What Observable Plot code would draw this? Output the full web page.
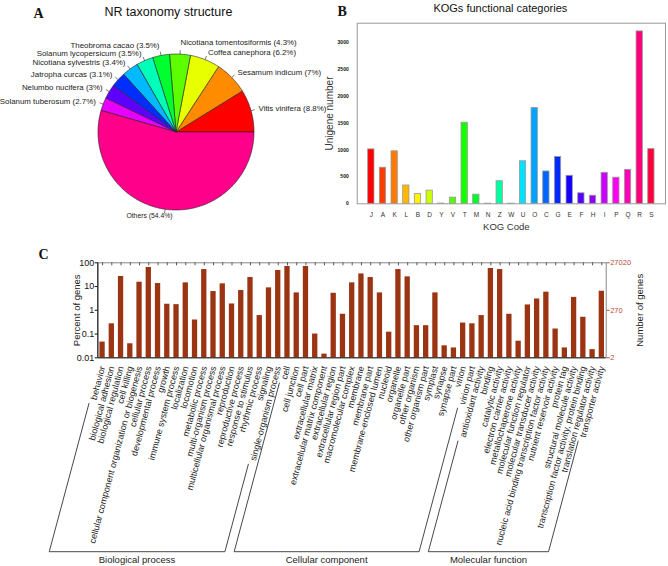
<!DOCTYPE html>
<html><head><meta charset="utf-8">
<script src="https://cdn.jsdelivr.net/npm/d3@7"></script>
<script src="https://cdn.jsdelivr.net/npm/@observablehq/plot@0.6"></script>
<style>
html,body{margin:0;padding:0;background:#fff;}
#fig{position:relative;width:668px;height:566px;overflow:hidden;font-family:'Liberation Sans',Arial,sans-serif;}
#fig > div{position:absolute;}
</style></head><body>
<div id="fig"><div id="pa" style="left:0;top:0"></div><div id="pb" style="left:320px;top:0"></div><div id="pc" style="left:0;top:235px"></div></div>
<script>
// ---------- Panel A: NR taxonomy ----------
const nrSpecies = ["Vitis vinifera","Sesamum indicum","Coffea canephora","Nicotiana tomentosiformis","Theobroma cacao","Solanum lycopersicum","Nicotiana sylvestris","Jatropha curcas","Nelumbo nucifera","Solanum tuberosum","Others"];
const nrPercent = [8.8,7,6.2,4.3,3.5,3.5,3.4,3.1,3,2.7,54.4];
const nrTitle = "NR taxonomy structure";

// ---------- Panel B: KOG ----------
const kogCodes = ["J","A","K","L","B","D","Y","V","T","M","N","Z","W","U","O","C","G","E","F","H","I","P","Q","R","S"];
const kogCounts = [1010,670,975,340,180,245,5,115,1505,170,3,420,3,790,1780,600,870,520,195,150,575,485,630,3200,1015];
const kogTicks = [0,500,1000,1500,2000,2500,3000];
const kogTitle = "KOGs functional categories";

// ---------- Panel C: GO ----------
const goTerms = ["behavior","biological adhesion","biological regulation","cell killing","cellular component organization or biogenesis","cellular process","developmental process","growth","immune system process","localization","locomotion","metabolic process","multi-organism process","multicellular organismal process","reproduction","reproductive process","response to stimulus","rhythmic process","signaling","single-organism process",
"cell","cell junction","cell part","extracellular matrix","extracellular matrix component","extracellular region","extracellular region part","macromolecular complex","membrane","membrane part","membrane-enclosed lumen","nucleoid","organelle","organelle part","other organism","other organism part","symplast","synapse","synapse part","virion","virion part",
"antioxidant activity","binding","catalytic activity","electron carrier activity","metallochaperone activity","molecular function regulator","molecular transducer activity","nucleic acid binding transcription factor activity","nutrient reservoir activity","protein tag","structural molecule activity","transcription factor activity, protein binding","translation regulator activity","transporter activity"];
const goPercent = [0.046,0.27,26.5,0.039,15.2,63.5,13.4,1.8,1.73,14.3,0.39,52,6.15,13,1.85,6.8,24,0.6,8.8,47.5,
70,5.4,70,0.1,0.0143,5.2,0.68,14.3,34,24,5.4,0.12,52,25.6,0.225,0.225,5.4,0.032,0.026,0.29,0.27,
0.6,57.6,52,0.68,0.05,1.68,3.0,5.8,0.163,0.026,3.5,0.51,0.022,6.35];
const goGroups = ["Biological process","Cellular component","Molecular function"];
const goGroupSizes = [20,21,14];
const pctTicks = [100,10,1,0.1,0.01];
const pctTickLabels = ["100","10","1","0.1","0.01"];
const countTicks = [100,1,0.01];
const countTickLabels = ["27020","270","2"];

const FONT = "'Liberation Sans', Arial, sans-serif";
const SERIF = "'Liberation Serif', 'Times New Roman', serif";
const baseStyle = {fontFamily: FONT, background: "transparent", overflow: "visible", color: "#111"};

// ===== Panel A =====
{
  const WA = 334, HA = 232, R = 78, cx = 175.5, cy = 131.5;
  const total = d3.sum(nrPercent);
  let cum = 0;
  const slices = nrSpecies.map((name, i) => {
    const a0 = cum / total * 2 * Math.PI; cum += nrPercent[i];
    const a1 = cum / total * 2 * Math.PI;
    return {name, a0, a1, mid: (a0 + a1) / 2,
      color: d3.hsl(i * 360 / nrSpecies.length, 1, 0.5).formatHex(),
      label: `${name} (${nrPercent[i]}%)`};
  });
  const piePts = slices.flatMap(s => {
    const n = Math.max(2, Math.ceil((s.a1 - s.a0) / (Math.PI / 180)));
    const pts = [{name: s.name, color: s.color, x: 0, y: 0}];
    for (let k = 0; k <= n; k++) {
      const a = s.a0 + (s.a1 - s.a0) * k / n;
      pts.push({name: s.name, color: s.color, x: Math.cos(a), y: Math.sin(a)});
    }
    pts.push({name: s.name, color: s.color, x: 0, y: 0});
    return pts;
  });
  const isOthers = s => s.name === "Others";
  const raised = new Set(["Nicotiana tomentosiformis", "Theobroma cacao"]);
  const lx = d => 1.1 * Math.cos(d.mid), ly = d => 1.1 * Math.sin(d.mid);
  const normal = slices.filter(s => !isOthers(s) && !raised.has(s.name));
  const chart = Plot.plot({
    width: WA, height: HA, margin: 0,
    style: baseStyle,
    x: {domain: [-cx / R, (WA - cx) / R], axis: null},
    y: {domain: [-(HA - cy) / R, cy / R], axis: null},
    marks: [
      Plot.line(piePts, {x: "x", y: "y", z: "name", fill: "color", stroke: "#222", strokeWidth: 0.6}),
      Plot.link(slices, {x1: d => Math.cos(d.mid), y1: d => Math.sin(d.mid), x2: d => 1.05 * Math.cos(d.mid), y2: d => 1.05 * Math.sin(d.mid), stroke: "#222", strokeWidth: 0.6}),
      Plot.text(normal.filter(s => Math.cos(s.mid) >= 0), {x: lx, y: ly, text: "label", textAnchor: "start", fontSize: 7.9, fill: "#222"}),
      Plot.text(normal.filter(s => Math.cos(s.mid) < 0), {x: lx, y: ly, text: "label", textAnchor: "end", fontSize: 7.9, fill: "#222"}),
      Plot.text(slices.filter(s => raised.has(s.name) && Math.cos(s.mid) >= 0), {x: lx, y: ly, text: "label", textAnchor: "start", fontSize: 7.9, dy: -3.5, fill: "#222"}),
      Plot.text(slices.filter(s => raised.has(s.name) && Math.cos(s.mid) < 0), {x: lx, y: ly, text: "label", textAnchor: "end", fontSize: 7.9, dy: -2.5, fill: "#222"}),
      Plot.text(slices.filter(isOthers), {x: lx, y: ly, text: "label", textAnchor: "end", fontSize: 6.8, dx: 8.5, dy: -1, fill: "#222"}),
      Plot.text([nrTitle], {text: d => d, frameAnchor: "top-left", dx: 168, dy: 15, textAnchor: "middle", lineAnchor: "bottom", fontSize: 12.5}),
      Plot.text(["A"], {text: d => d, frameAnchor: "top-left", dx: 33, dy: 17.5, textAnchor: "start", lineAnchor: "bottom", fontSize: 14, fontWeight: "bold", fontFamily: SERIF})
    ]
  });
  document.getElementById("pa").append(chart);
}

// ===== Panel B =====
{
  const rows = kogCodes.map((c, i) => ({code: c, count: kogCounts[i], color: d3.hsl(i * 360 / kogCodes.length, 1, 0.5).formatHex()}));
  const chart = Plot.plot({
    width: 348, height: 235,
    marginLeft: 36.7, marginRight: 3, marginTop: 22.7, marginBottom: 31.7,
    style: baseStyle,
    x: {domain: kogCodes, paddingInner: 0.46, paddingOuter: 0.94, round: false, axis: null},
    y: {domain: [0, 3352], axis: null},
    marks: [
      Plot.frame({stroke: "#999"}),
      Plot.barY(rows, {x: "code", y: "count", fill: "color", stroke: "#9a9a9a", strokeWidth: 0.8}),
      Plot.axisY(kogTicks, {anchor: "left", tickSize: 0, tickPadding: 8.5, fontSize: 5, fontWeight: "bold", tickFormat: d => String(d), label: null}),
      Plot.axisX({anchor: "bottom", tickSize: 0, tickPadding: 9, fontSize: 6.5, fill: "#333", label: null}),
      Plot.text(["Unigene number"], {text: d => d, frameAnchor: "left", rotate: -90, textAnchor: "middle", lineAnchor: "middle", dx: -27.7, fontSize: 10, fill: "#333"}),
      Plot.text(["KOG Code"], {text: d => d, frameAnchor: "bottom", dx: -5, dy: 26, lineAnchor: "bottom", fontSize: 9.5, fill: "#333"}),
      Plot.text([kogTitle], {text: d => d, frameAnchor: "top", dx: -11, dy: -11.2, lineAnchor: "bottom", fontSize: 11}),
      Plot.text(["B"], {text: d => d, frameAnchor: "top-left", dx: -19.7, dy: -7.2, textAnchor: "start", lineAnchor: "bottom", fontSize: 14, fontWeight: "bold", fontFamily: SERIF})
    ]
  });
  document.getElementById("pb").append(chart);
}

// ===== Panel C =====
{
  const WC = 668, HC = 331, mL = 97.7, mR = 62.3, mT = 27.3, mB = 208.7;
  const barColor = "#9a3412";
  const rows = goTerms.map((t, i) => ({term: t, pct: goPercent[i]}));
  const pctMap = new Map(pctTicks.map((v, i) => [v, pctTickLabels[i]]));
  const cntMap = new Map(countTicks.map((v, i) => [v, countTickLabels[i]]));
  const labelGap = 8.5, rot = -75, labelSize = 9, bracketShift = -3;
  const ctx = document.createElement("canvas").getContext("2d");
  ctx.font = `${labelSize}px 'Liberation Sans', Arial, sans-serif`;
  const brackets = (index, scales, values, dims) => {
    const g = d3.create("svg:g");
    const x = scales.x, bw = x.bandwidth ? x.bandwidth() : 0;
    const by = dims.height - dims.marginBottom + labelGap;
    const yBottom = 316.7;
    const th = -rot * Math.PI / 180;
    const dir = [-Math.cos(th), Math.sin(th)];
    const cot = Math.cos(th) / Math.sin(th);
    const topPt = t => {
      const L = ctx.measureText(t).width + 4;
      return [x(t) + bw / 2 + dir[0] * L + bracketShift, by + dir[1] * L];
    };
    g.append("line").attr("x1", dims.marginLeft).attr("x2", dims.marginLeft)
      .attr("y1", dims.marginTop).attr("y2", dims.height - dims.marginBottom).attr("stroke", "#222");
    let start = 0;
    goGroups.forEach((name, gi) => {
      const first = goTerms[start], last = goTerms[start + goGroupSizes[gi] - 1];
      start += goGroupSizes[gi];
      const p0 = topPt(first), p1 = topPt(last);
      const b0 = [p0[0] - (yBottom - p0[1]) * cot, yBottom];
      const b1 = [p1[0] - (yBottom - p1[1]) * cot, yBottom];
      g.append("path").attr("d", d3.line()([p0, b0, b1, p1])).attr("fill", "none").attr("stroke", "#333").attr("stroke-width", 0.9);
      g.append("text").attr("x", (b0[0] + b1[0]) / 2).attr("y", yBottom + 11).attr("text-anchor", "middle")
        .attr("font-size", 9.5).attr("fill", "#222").text(name);
    });
    return g.node();
  };
  const chart = Plot.plot({
    width: WC, height: HC, marginLeft: mL, marginRight: mR, marginTop: mT, marginBottom: mB,
    style: baseStyle,
    x: {domain: goTerms, paddingInner: 0.427, paddingOuter: 0.185, round: false, axis: null},
    y: {type: "log", domain: [0.01, 100], axis: null},
    marks: [
      Plot.frame({stroke: "#888"}),
      Plot.ruleX(goTerms, {x: d => d, stroke: "#555", insetBottom: HC - mT - mB - 3}),
      Plot.barY(rows, {x: "term", y1: 0.01, y2: "pct", fill: barColor}),
      Plot.ruleY([0.01], {stroke: "#222"}),
      Plot.axisY(pctTicks, {anchor: "left", tickSize: 3, tickPadding: 1, fontSize: 9, tickFormat: d => pctMap.get(d), label: null}),
      Plot.axisY(countTicks, {anchor: "right", tickSize: 3, tickPadding: 1, fontSize: 7.5, color: "#b94a3a", tickFormat: d => cntMap.get(d), label: null}),
      Plot.text(goTerms, {x: d => d, text: d => d, frameAnchor: "bottom", dy: labelGap, rotate: rot, textAnchor: "end", lineAnchor: "middle", fontSize: labelSize, fill: "#222"}),
      brackets,
      Plot.text(["Percent of genes"], {text: d => d, frameAnchor: "left", rotate: -90, textAnchor: "middle", lineAnchor: "middle", dx: -21.7, fontSize: 9.5, fill: "#222"}),
      Plot.text(["Number of genes"], {text: d => d, frameAnchor: "right", rotate: -90, textAnchor: "middle", lineAnchor: "middle", dx: 33.6, fontSize: 9.5, fill: "#222"}),
      Plot.text(["C"], {text: d => d, frameAnchor: "top-left", dx: -59.7, dy: -3.8, textAnchor: "start", lineAnchor: "bottom", fontSize: 14, fontWeight: "bold", fontFamily: SERIF})
    ]
  });
  document.getElementById("pc").append(chart);
}
</script>
</body></html>
